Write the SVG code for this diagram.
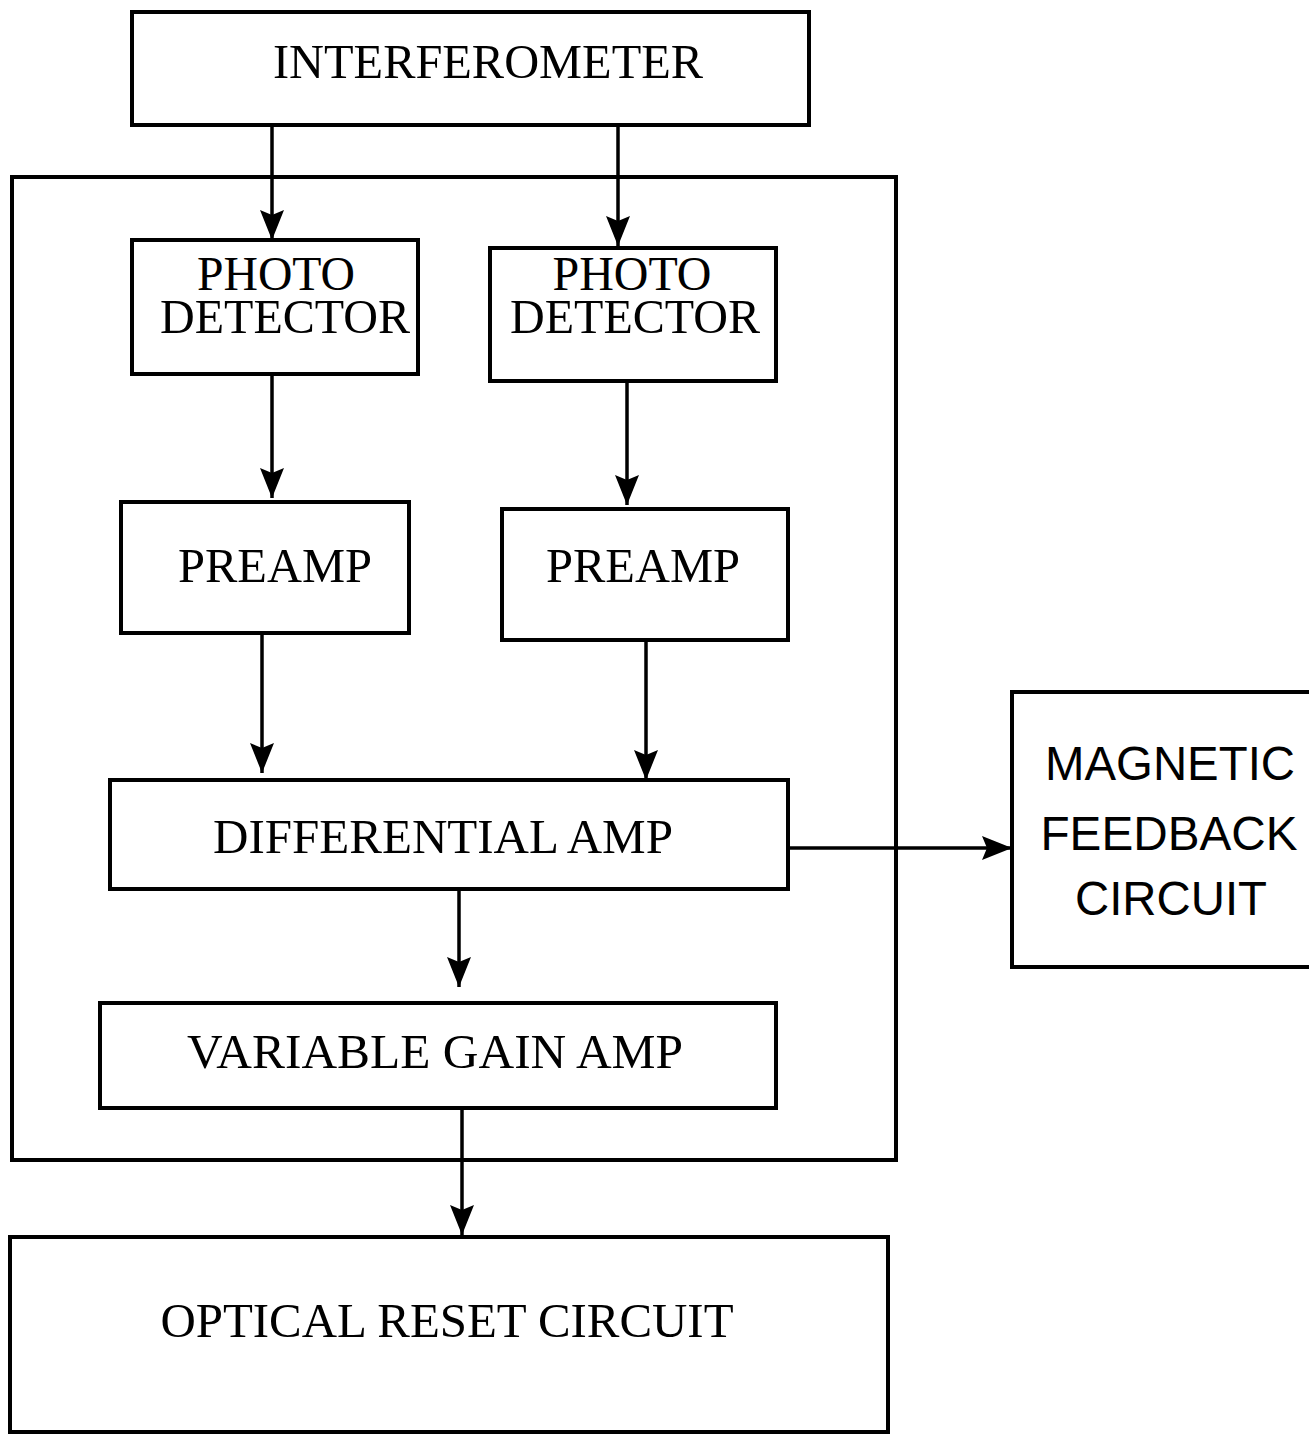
<svg xmlns="http://www.w3.org/2000/svg" width="1309" height="1435" viewBox="0 0 1309 1435">
<style>
.box{fill:none;stroke:#000;stroke-width:4}
.serif{font-family:"Liberation Serif","Times New Roman",serif;font-size:48px;fill:#000;text-anchor:middle}
.sans{font-family:"Liberation Sans",Arial,sans-serif;font-size:48px;fill:#000;text-anchor:middle}
.conn{stroke:#000;stroke-width:3.5;fill:none;marker-end:url(#ah)}
</style>
<defs>
<marker id="ah" markerUnits="userSpaceOnUse" markerWidth="32" markerHeight="24" refX="30" refY="12" orient="auto">
<path d="M0,0 L30,12 L0,24 L5,12 Z" fill="#000"/>
</marker>
</defs>
<rect width="1309" height="1435" fill="#fff"/>
<g id="container"><rect class="box" x="12" y="177" width="884" height="983"/></g>
<g id="interferometer"><rect class="box" x="132" y="12" width="677" height="113"/><text class="serif" x="488" y="78" textLength="430" lengthAdjust="spacingAndGlyphs">INTERFEROMETER</text></g>
<g id="photodetector1"><rect class="box" x="132" y="240" width="286" height="134"/><text class="serif" x="276" y="290" textLength="158" lengthAdjust="spacingAndGlyphs">PHOTO</text><text class="serif" x="285" y="333" textLength="250" lengthAdjust="spacingAndGlyphs">DETECTOR</text></g>
<g id="photodetector2"><rect class="box" x="490" y="248" width="286" height="133"/><text class="serif" x="632" y="290" textLength="159" lengthAdjust="spacingAndGlyphs">PHOTO</text><text class="serif" x="635" y="333" textLength="250" lengthAdjust="spacingAndGlyphs">DETECTOR</text></g>
<g id="preamp1"><rect class="box" x="121" y="502" width="288" height="131"/><text class="serif" x="275" y="582" textLength="194" lengthAdjust="spacingAndGlyphs">PREAMP</text></g>
<g id="preamp2"><rect class="box" x="502" y="509" width="286" height="131"/><text class="serif" x="643" y="582" textLength="194" lengthAdjust="spacingAndGlyphs">PREAMP</text></g>
<g id="diffamp"><rect class="box" x="110" y="780" width="678" height="109"/><text class="serif" x="443" y="853" textLength="460" lengthAdjust="spacingAndGlyphs">DIFFERENTIAL AMP</text></g>
<g id="vga"><rect class="box" x="100" y="1003" width="676" height="105"/><text class="serif" x="435" y="1068" textLength="496" lengthAdjust="spacingAndGlyphs">VARIABLE GAIN AMP</text></g>
<g id="optreset"><rect class="box" x="10" y="1237" width="878" height="195"/><text class="serif" x="447" y="1337" textLength="573" lengthAdjust="spacingAndGlyphs">OPTICAL RESET CIRCUIT</text></g>
<g id="magfeedback"><rect class="box" x="1012" y="692" width="310" height="275"/><text class="sans" x="1170" y="780" textLength="250" lengthAdjust="spacingAndGlyphs">MAGNETIC</text><text class="sans" x="1169" y="850" textLength="257" lengthAdjust="spacingAndGlyphs">FEEDBACK</text><text class="sans" x="1171" y="915" textLength="192" lengthAdjust="spacingAndGlyphs">CIRCUIT</text></g>
<g id="connectors">
<line class="conn" x1="272" y1="125" x2="272" y2="240"/>
<line class="conn" x1="618" y1="125" x2="618" y2="246"/>
<line class="conn" x1="272" y1="374" x2="272" y2="498"/>
<line class="conn" x1="627" y1="381" x2="627" y2="505"/>
<line class="conn" x1="262" y1="633" x2="262" y2="773"/>
<line class="conn" x1="646" y1="640" x2="646" y2="780"/>
<line class="conn" x1="459" y1="889" x2="459" y2="987"/>
<line class="conn" x1="462" y1="1108" x2="462" y2="1235"/>
<line class="conn" x1="788" y1="848" x2="1012" y2="848"/>
</g>
</svg>
